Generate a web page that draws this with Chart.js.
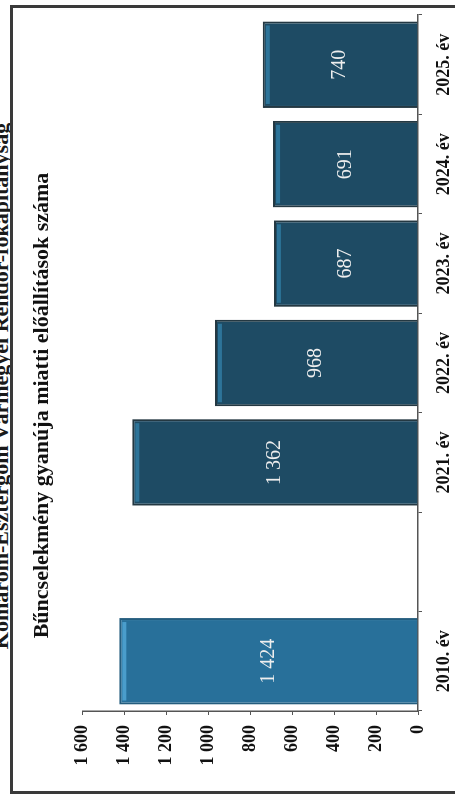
<!DOCTYPE html>
<html>
<head>
<meta charset="utf-8">
<script src="https://cdn.jsdelivr.net/npm/chart.js@4.4.0/dist/chart.umd.min.js"></script>
<style>
  html, body { margin: 0; padding: 0; background: #fff; overflow: hidden; }
  body { width: 455px; height: 796px; position: relative; }
  /* the page is drawn upright (796 x 455) and turned a quarter to the left */
  #sheet {
    position: absolute; left: 0; top: 0;
    width: 796px; height: 455px;
    transform-origin: 0 0;
    transform: translateY(796px) rotate(-90deg);
  }
  #header {
    position: absolute; left: 14px; top: -10px; width: 792px;
    text-align: center;
    font: bold 22px "Liberation Serif", serif; line-height: 22px;
    color: #1a1a1a; white-space: nowrap;
  }
  #frame {
    position: absolute; left: 2px; top: 10px; width: 789px; height: 470px;
    box-sizing: border-box; border: 3px solid #3a3a3a; background: #fff;
  }
  #chart { position: absolute; left: 0; top: 0; }
</style>
</head>
<body>
<div id="sheet">
  <div id="header">Komárom-Esztergom Vármegyei Rendőr-főkapitányság</div>
  <div id="frame"></div>
  <canvas id="chart" width="796" height="455"></canvas>
</div>
<script>
const years = ["2010. év", "", "2021. év", "2022. év", "2023. év", "2024. év", "2025. év"];
const arrests = [1424, null, 1362, 968, 687, 691, 740];
const chartTitle = "Bűncselekmény gyanúja miatti előállítások száma";

const serif = "'Liberation Serif', 'Times New Roman', serif";
const fmt = v => String(v).replace(/\B(?=(\d{3})+(?!\d))/g, " ");

// 2010 is lighter, the recent years dark
const fills = years.map((y, i) => i === 0 ? "#28709a" : "#1e4b64");
const edges = years.map((y, i) => i === 0 ? "#245d7e" : "#243842");
const shines = years.map((y, i) => i === 0 ? "#4a9dcb" : "#2d7499");

// value in the middle of each bar + light bevel strip at the top
const barLabels = {
    id: "barLabels",
    afterDatasetsDraw(chart) {
        const ctx = chart.ctx;
        const meta = chart.getDatasetMeta(0);
        meta.data.forEach((bar, i) => {
            const v = arrests[i];
            if (v === null) return;
            const p = bar.getProps(["x", "y", "base", "width"], true);
            ctx.save();
            ctx.fillStyle = shines[i];
            ctx.fillRect(p.x - p.width / 2 + 4, p.y + 3, p.width - 8, 4);
            ctx.fillStyle = "#eeeeee";
            ctx.font = "20px " + serif;
            ctx.textAlign = "center";
            ctx.textBaseline = "middle";
            ctx.fillText(fmt(v), p.x, (p.y + p.base) / 2);
            ctx.restore();
        });
    }
};

new Chart(document.getElementById("chart"), {
    type: "bar",
    data: {
        labels: years,
        datasets: [{
            data: arrests,
            backgroundColor: fills,
            borderColor: edges,
            borderWidth: 2,
            categoryPercentage: 1,
            barPercentage: 0.87
        }]
    },
    options: {
        responsive: false,
        animation: false,
        layout: { padding: { left: 0, right: 15, top: 0, bottom: 0 } },
        plugins: {
            legend: { display: false },
            tooltip: { enabled: false },
            title: {
                display: true,
                text: chartTitle,
                color: "#111",
                font: { family: serif, size: 22, weight: "bold" },
                padding: { top: 29, bottom: 27 }
            }
        },
        scales: {
            x: {
                grid: { drawOnChartArea: false, tickLength: 4, color: "#555", offset: true },
                border: { color: "#555", width: 1.5 },
                ticks: {
                    color: "#111", padding: 12, maxRotation: 0, autoSkip: false,
                    font: { family: serif, size: 18, weight: "bold" }
                },
                afterFit: s => { s.height = 37; }
            },
            y: {
                min: 0, max: 1600,
                grid: { drawOnChartArea: false, tickLength: 4, color: "#555" },
                border: { color: "#555", width: 1.5 },
                ticks: {
                    stepSize: 200, color: "#111", padding: 10,
                    font: { family: serif, size: 18, weight: "bold" },
                    callback: v => fmt(v)
                },
                afterFit: s => { s.width = 85; }
            }
        }
    },
    plugins: [barLabels]
});
</script>
</body>
</html>
